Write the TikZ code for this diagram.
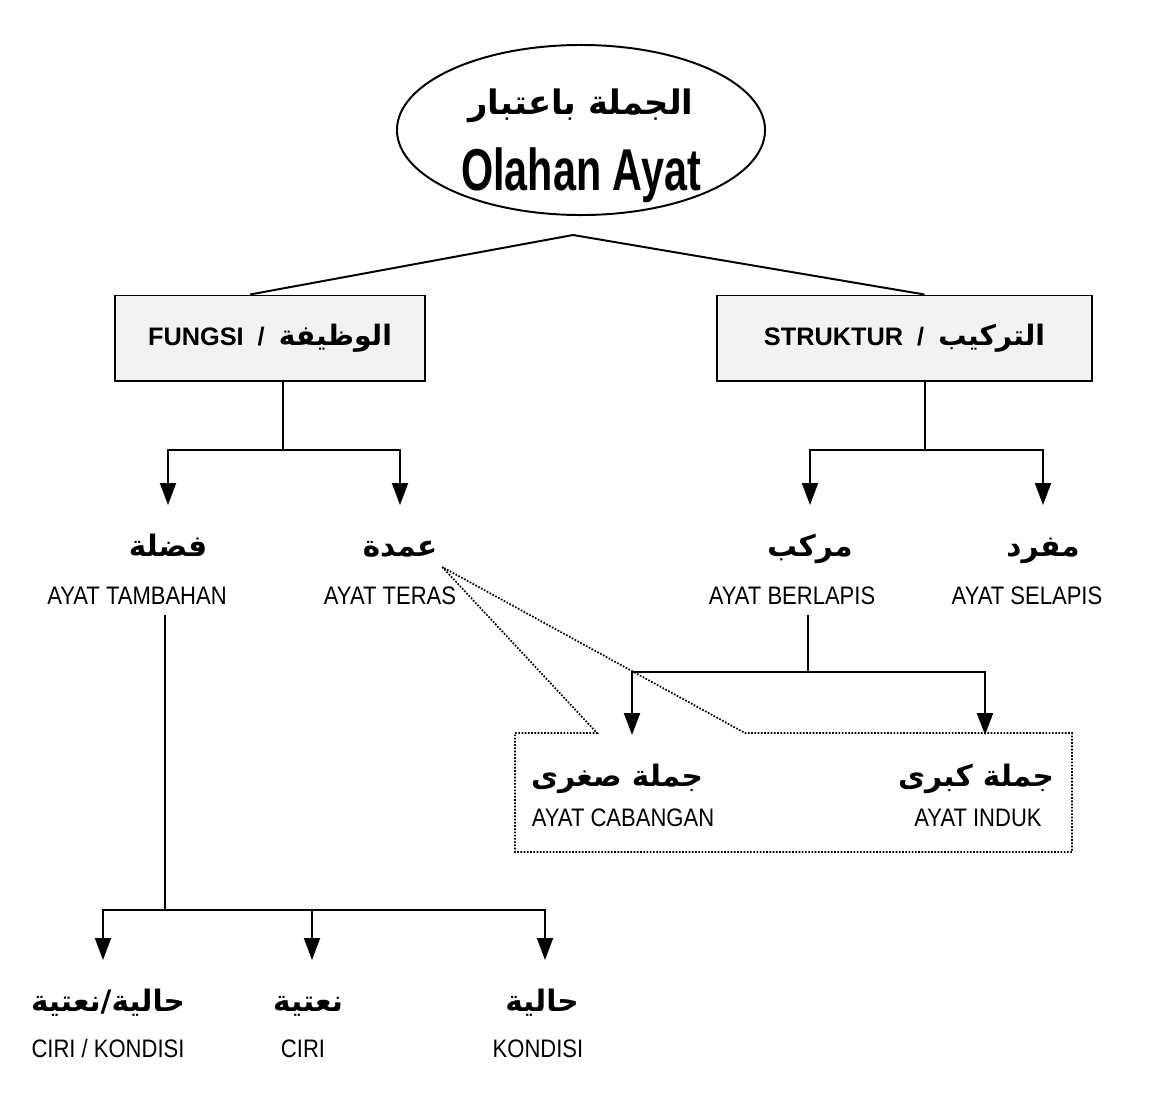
\documentclass[tikz,border=0pt]{standalone}
\usepackage{fontspec}
\setmainfont{Liberation Sans}
\newfontfamily\arabicfont[Script=Arabic]{DejaVu Sans}
\newfontfamily\narrowfont[FakeStretch=0.87]{Liberation Sans}
\newfontfamily\titlefont[FakeStretch=0.7]{Liberation Sans}
\TeXXeTstate=1
\usepackage{tikz}
\usetikzlibrary{arrows.meta, positioning, shapes.geometric}
\tikzset{
  arab/.style={font=\arabicfont\bfseries\fontsize{21}{25}\selectfont, anchor=north, text height=1.25cm, text depth=0.25cm},
  lat/.style={font=\narrowfont\fontsize{18}{21}\selectfont, anchor=base},
  catbox/.style={draw, fill=gray!10, minimum height=2.125cm, font=\bfseries\fontsize{18}{21}\selectfont},
  dotline/.style={line width=1.2pt, dash pattern=on 1.2pt off 1.1pt}
}

\begin{document}
\begin{tikzpicture}[x=0.025cm, y=-0.025cm, line width=1.4pt, >={Triangle[width=0.4cm, length=0.55cm]}, every node/.style={inner sep=0pt}]
\useasboundingbox (0,0) rectangle (1149,1111);
\node[draw, ellipse, minimum width=9.2cm, minimum height=4.25cm,
  label={[name=rootT, align=center, yshift=-0.4cm]center:{\arabicfont\bfseries\fontsize{24}{28}\selectfont\beginR الجملة باعتبار\endR}\\[0.6cm]{\titlefont\bfseries\fontsize{42}{44}\selectfont Olahan Ayat}}] (root) at (581,130) {};
\node[catbox, minimum width=7.75cm] (fungsi) at (270,338) {FUNGSI \ / \ {\arabicfont\fontsize{20}{24}\selectfont\beginR الوظيفة\endR}};
\node[catbox, minimum width=9.375cm] (struktur) at (904.5,338) {STRUKTUR \ / \ {\arabicfont\fontsize{20}{24}\selectfont\beginR التركيب\endR}};
\coordinate (apex) at (573,235);
\draw (apex) -- ([xshift=-0.5cm]fungsi.north);
\draw (apex) -- ([xshift=0.5cm]struktur.north);

\node[arab] (fadla) at (168,505) {\beginR فضلة\endR};
\node[arab] (umda) at (400,505) {\beginR عمدة\endR};
\node[arab] (murakkab) at (810,505) {\beginR مركب\endR};
\node[arab] (mufrad) at (1043,505) {\beginR مفرد\endR};
\node[lat] (fadlaL) at (137,604) {AYAT TAMBAHAN};
\node[lat] (umdaL) at (390,604) {AYAT TERAS};
\node[lat] (murakkabL) at (792,604) {AYAT BERLAPIS};
\node[lat] (mufradL) at (1027,604) {AYAT SELAPIS};

\coordinate (fj) at (283,450);
\coordinate (sj) at (925,450);
\draw (fj |- fungsi.south) -- (fj);
\draw[->] (fj) -| (fadla.north);
\draw[->] (fj) -| (umda.north);
\draw (sj |- struktur.south) -- (sj);
\draw[->] (sj) -| (murakkab.north);
\draw[->] (sj) -| (mufrad.north);

\node[arab] (sughra) at (617,735) {\beginR جملة صغرى\endR};
\node[arab] (kubra) at (976,735) {\beginR جملة كبرى\endR};
\node[lat] (sughraL) at (623,826) {AYAT CABANGAN};
\node[lat] (kubraL) at (978,826) {AYAT INDUK};
\coordinate (bj) at (808,672);
\draw[shorten <=0.25cm] (bj |- murakkabL.south) -- (bj);
\draw[->] (bj) -| ([xshift=0.375cm]sughra.north);
\draw[->] (bj) -| ([xshift=0.225cm]kubra.north);
\draw[dotline] ([xshift=0.1cm]umda.south east) -- (597,733) -- (515,733) -- (515,852) -- (1072,852) -- (1072,733) -- (745,733) -- cycle;

\node[arab] (naat2) at (108,960) {\beginR حالية/نعتية\endR};
\node[arab] (naat) at (308,960) {\beginR نعتية\endR};
\node[arab] (hal) at (542,960) {\beginR حالية\endR};
\node[lat] (naat2L) at (108,1057) {CIRI / KONDISI};
\node[lat] (naatL) at (303,1057) {CIRI};
\node[lat] (halL) at (538,1057) {KONDISI};
\coordinate (tj) at (165,910);
\draw[shorten <=0.25cm] (tj |- fadlaL.south) -- (tj);
\draw[->] (tj) -| ([xshift=-0.125cm]naat2.north);
\draw[->] (tj) -| ([xshift=0.1cm]naat.north);
\draw[->] (tj) -| ([xshift=0.075cm]hal.north);
\end{tikzpicture}
\end{document}
